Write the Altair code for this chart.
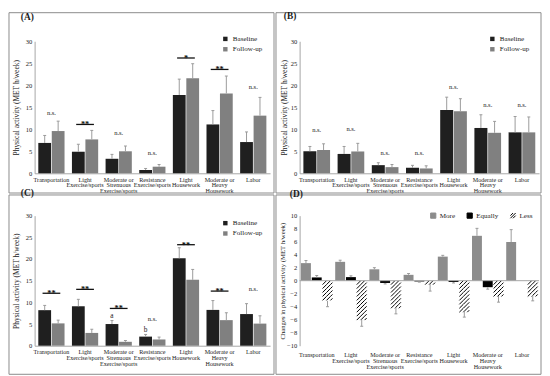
import altair as alt
import pandas as pd

SERIF = "Liberation Serif"
TXT = "#1a1a1a"
AXC = "#a6a6a6"
ERRC = "#9a9a9a"
FRAMEC = "#8a8a8a"

categories = ["Transportation", "Light|Exercise/sports", "Moderate or|Strenuous|Exercise/sports",
              "Resistance|Exercise/sports", "Light|Housework", "Moderate or|Heavy|Housework", "Labor"]
groups = ["Baseline", "Follow-up"]
group_colors = ["#1f1f1f", "#808080"]

# Panel A
a_baseline = [6.9, 4.9, 3.3, 0.75, 17.8, 11.1, 7.1]
a_baseline_se = [1.7, 1.7, 1.0, 0.35, 3.6, 3.15, 2.3]
a_followup = [9.6, 7.7, 5.0, 1.5, 21.6, 18.15, 13.1]
a_followup_se = [2.25, 2.05, 1.2, 0.5, 3.3, 3.95, 4.15]
a_sig = ["n.s.", "**", "n.s.", "n.s.", "*", "**", "n.s."]
a_sig_y = [13.7, 11.1, 9.1, 4.5, 26.2, 23.6, 19.5]

# Panel B
b_baseline = [5.0, 4.4, 1.85, 1.26, 14.4, 10.3, 9.3]
b_baseline_se = [1.1, 1.7, 0.55, 0.55, 2.9, 3.0, 3.6]
b_followup = [5.3, 4.96, 1.4, 1.1, 14.1, 9.2, 9.3]
b_followup_se = [1.4, 1.85, 0.6, 0.6, 2.85, 2.6, 3.5]
b_sig = ["n.s.", "n.s.", "n.s.", "n.s.", "n.s.", "n.s.", "n.s."]
b_sig_y = [9.8, 10.0, 4.7, 4.7, 19.6, 15.6, 15.6]

# Panel C
c_baseline = [8.2, 9.1, 5.0, 2.1, 20.15, 8.26, 7.3]
c_baseline_se = [1.1, 1.6, 0.8, 0.5, 2.45, 2.15, 2.4]
c_followup = [5.15, 2.95, 0.9, 1.44, 15.2, 5.9, 5.1]
c_followup_se = [0.75, 0.85, 0.3, 0.55, 2.4, 1.7, 1.8]
c_sig = ["**", "**", "**", "n.s.", "**", "**", "n.s."]
c_sig_y = [12.1, 13.0, 8.6, 6.1, 23.3, 12.6, 13.0]
c_letters = ["a", "b"]
c_letter_cats = ["Moderate or|Strenuous|Exercise/sports", "Resistance|Exercise/sports"]
c_letter_y = [6.9, 3.6]

# Panel D
d_series = ["More", "Equally", "Less"]
d_fill = ["#8c8c8c", "#000000", "#ffffff"]
d_stroke = ["#8c8c8c", "#000000", "#000000"]
d_more = [2.7, 2.9, 1.75, 0.9, 3.7, 6.9, 5.95]
d_more_se = [0.4, 0.25, 0.25, 0.2, 0.2, 1.15, 1.9]
d_equally = [0.5, 0.55, -0.35, -0.12, -0.2, -1.0, 0.0]
d_equally_se = [0.3, 0.2, 0.15, 0.1, 0.15, 0.3, 0.0]
d_less = [-3.1, -5.95, -4.05, -0.5, -4.6, -2.35, -2.2]
d_less_se = [0.9, 1.05, 1.05, 1.1, 1.0, 0.95, 0.9]

W1, W2 = 239, 243
H1, H2 = 134, 132

XLAB = 6.2
YLAB = 6.6


def x_axis(pad, domain=True):
    return alt.Axis(title=None, labelAngle=0, labelExpr="split(datum.label, '|')", ticks=False,
                    domain=domain, domainColor=AXC, labelFont=SERIF, labelFontSize=XLAB, labelColor=TXT,
                    labelPadding=pad, labelLineHeight=5.9, labelBaseline="top")


def y_axis(values, ttl, tpad, tsize):
    return alt.Axis(values=values, title=ttl, grid=False, ticks=False,
                    domainColor=AXC, labelFont=SERIF, labelFontSize=YLAB, labelColor=TXT, labelPadding=3,
                    titleFont=SERIF, titleFontSize=tsize, titleFontWeight="normal", titleColor=TXT,
                    titlePadding=tpad)


def frame_layer(x1, x2, y1, y2):
    return alt.Chart(pd.DataFrame({"f": [0]})).mark_rect(
        filled=False, stroke=FRAMEC, strokeWidth=1).encode(
        x=alt.value(x1), x2=alt.value(x2), y=alt.value(y1), y2=alt.value(y2))


def title(letter, dx, offset):
    return alt.TitleParams(text=f"({letter})", anchor="start", frame="group", dx=dx, offset=offset,
                           font=SERIF, fontSize=9.5, fontWeight="bold", color=TXT, baseline="alphabetic")


def bar_panel(letter, base, base_se, fol, fol_se, sig, sig_y, width, height, frame, tdx, toff,
              lx, ly, tpad, letters=None):
    df = pd.DataFrame({"cat": categories * 2,
                       "group": [groups[0]] * 7 + [groups[1]] * 7,
                       "value": base + fol, "se": base_se + fol_se})
    xs = alt.Scale(domain=categories, paddingInner=0.22, paddingOuter=0.11)
    xo = alt.XOffset("group:N", scale=alt.Scale(domain=groups, paddingInner=0.05, paddingOuter=0))
    xax = x_axis(3)
    yax = y_axis([0, 5, 10, 15, 20, 25, 30], "Physical activity (MET h/week)", tpad, 7.6)
    X = alt.X("cat:N", scale=xs, axis=xax)
    ys = alt.Scale(domain=[0, 30], nice=False)

    def Y(f):
        return alt.Y(f, scale=ys, axis=yax)

    base_c = alt.Chart(df)
    bars = base_c.mark_bar(opacity=1).encode(
        x=X, xOffset=xo, y=Y("value:Q"),
        color=alt.Color("group:N", scale=alt.Scale(domain=groups, range=group_colors),
                        legend=alt.Legend(title=None, orient="none", legendX=lx, legendY=ly,
                                          symbolType="square", symbolSize=20, symbolStrokeWidth=0,
                                          labelFont=SERIF, labelFontSize=7.2, labelColor=TXT,
                                          rowPadding=2.5, labelOffset=4, padding=0)))
    err = base_c.transform_calculate(top="datum.value + datum.se").mark_rule(
        color=ERRC, strokeWidth=1, opacity=1).encode(
        x=X, xOffset=xo, y=Y("value:Q"), y2="top:Q")
    caps = base_c.transform_calculate(top="datum.value + datum.se").mark_tick(
        color=ERRC, size=3, thickness=1, opacity=1).encode(
        x=X, xOffset=xo, y=Y("top:Q"))
    sdf = pd.DataFrame({"cat": categories, "label": sig, "y": sig_y})
    sc = alt.Chart(sdf)
    ns = sc.transform_filter("datum.label == 'n.s.'").mark_text(
        font=SERIF, fontSize=6.6, baseline="middle", color=TXT).encode(
        x=X, y=Y("y:Q"), text="label:N")
    sline = sc.transform_filter("indexof(datum.label, '*') >= 0").mark_tick(
        size=18, thickness=1.3, color="#111111", opacity=1).encode(
        x=X, y=Y("y:Q"))
    stext = sc.transform_filter("indexof(datum.label, '*') >= 0").mark_text(
        font=SERIF, fontSize=8.5, fontWeight="bold", baseline="alphabetic", dy=3, color="#111111").encode(
        x=X, y=Y("y:Q"), text="label:N")
    layers = [frame_layer(*frame), bars, err, caps, ns, sline, stext]
    if letters is not None:
        ldf = pd.DataFrame({"cat": letters[1], "group": ["Baseline"] * len(letters[0]),
                            "label": letters[0], "y": letters[2]})
        layers.append(alt.Chart(ldf).mark_text(font=SERIF, fontSize=7.4, baseline="middle", color=TXT).encode(
            x=X, xOffset=xo, y=Y("y:Q"), text="label:N"))
    return alt.layer(*layers).properties(width=width, height=height, title=title(letter, tdx, toff))


pA = bar_panel("A", a_baseline, a_baseline_se, a_followup, a_followup_se, a_sig, a_sig_y,
               W1, H1, (-26, W1 + 4, -29, H1 + 20), -14, -17.5, 190, -6, 5)
pB = bar_panel("B", b_baseline, b_baseline_se, b_followup, b_followup_se, b_sig, b_sig_y,
               W2, H1, (-24, W2 + 2, -29, H1 + 20), -16, -16.5, 192, -6, 2)
pC = bar_panel("C", c_baseline, c_baseline_se, c_followup, c_followup_se, c_sig, c_sig_y,
               W1, H2, (-26, W1 + 4, -21, H2 + 29), -14, -11.5, 190, 4, 5,
               letters=(c_letters, c_letter_cats, c_letter_y))

# Panel D
d_df = pd.DataFrame({"cat": categories * 3,
                     "series": [s for s in d_series for _ in range(7)],
                     "value": d_more + d_equally + d_less,
                     "se": d_more_se + d_equally_se + d_less_se})
pi_x, po_x, pi_o = 0.08, 0.04, 0.08
step_x = W2 / (7 - pi_x + 2 * po_x)
bw_x = step_x * (1 - pi_x)
bar_w = bw_x / (3 - pi_o) * (1 - pi_o)
tile_h = 4.0
tile_step = tile_h / (H2 / 20.0)


def hatch_path(w, h):
    r = w / 2.0
    segs = []
    k = 1
    while k * h - h < w:
        c = k * h
        u1 = max(0.0, c - h)
        u2 = min(w, c)
        segs.append("M%.3f,%.3fL%.3f,%.3f" % ((u1 - r) / r, (c - u1 - h / 2) / r,
                                              (u2 - r) / r, (c - u2 - h / 2) / r))
        k += 1
    return "".join(segs)


hpath = hatch_path(bar_w, tile_h)
legend_hatch = "M-1,0L0,-1M-1,1L1,-1M0,1L1,0"
xsD = alt.Scale(domain=categories, paddingInner=pi_x, paddingOuter=po_x)
xoD = alt.XOffset("series:N", scale=alt.Scale(domain=d_series, paddingInner=pi_o, paddingOuter=0))
ysD = alt.Scale(domain=[-10, 10], nice=False)
xaxD = x_axis(6, domain=False)
yaxD = y_axis(list(range(-10, 11, 2)), "Changes in physical activity (MET h/week)", 1, 6.8)
XD = alt.X("cat:N", scale=xsD, axis=xaxD)


def YD(f):
    return alt.Y(f, scale=ysD, axis=yaxD)


d_legend = alt.Legend(title=None, orient="none", legendX=132, legendY=-4, direction="horizontal",
                      symbolSize=28, symbolStrokeWidth=1, labelFont=SERIF, labelFontSize=7.2,
                      labelColor=TXT, columnPadding=9, labelOffset=3, padding=0)
fill_enc = alt.Fill("series:N", scale=alt.Scale(domain=d_series, range=d_fill), legend=d_legend)
dc = alt.Chart(d_df)
d_bars = dc.mark_bar(opacity=1).encode(x=XD, xOffset=xoD, y=YD("value:Q"), fill=fill_enc)
d_tiles = dc.transform_filter("datum.series == 'Less'").transform_calculate(
    k="sequence(0, max(1, round(abs(datum.value) / %f)))" % tile_step).transform_flatten(
    ["k"]).transform_calculate(yc="-(datum.k + 0.5) * %f" % tile_step).mark_point(
    size=bar_w ** 2, strokeWidth=1, opacity=1, color="#000000", shape=hpath).encode(
    x=XD, xOffset=xoD, y=YD("yc:Q"))
d_legend_layer = dc.transform_filter("false").mark_point(opacity=1, strokeWidth=1).encode(
    x=XD, xOffset=xoD, y=YD("value:Q"),
    fill=fill_enc,
    stroke=alt.Stroke("series:N", scale=alt.Scale(domain=d_series, range=d_stroke), legend=d_legend),
    shape=alt.Shape("series:N", scale=alt.Scale(domain=d_series, range=["square", "square", legend_hatch]),
                    legend=d_legend))
d_zero = alt.Chart(pd.DataFrame({"z": [0]})).mark_rule(color=AXC, strokeWidth=1).encode(y=YD("z:Q"))
d_err = dc.transform_filter("datum.se > 0").transform_calculate(
    end="datum.value >= 0 ? datum.value + datum.se : datum.value - datum.se").mark_rule(
    color=ERRC, strokeWidth=1, opacity=1).encode(
    x=XD, xOffset=xoD, y=YD("value:Q"), y2="end:Q")
d_caps = dc.transform_filter("datum.se > 0").transform_calculate(
    end="datum.value >= 0 ? datum.value + datum.se : datum.value - datum.se").mark_tick(
    color=ERRC, size=3, thickness=1, opacity=1).encode(
    x=XD, xOffset=xoD, y=YD("end:Q"))
pD = alt.layer(frame_layer(-24, W2 + 2, -21, H2 + 29), d_bars, d_tiles, d_legend_layer, d_zero,
               d_err, d_caps).properties(width=W2, height=H2, title=title("D", -10, -12.5))

chart = alt.concat(pA, pB, pC, pD, columns=2, spacing={"row": 43, "column": 30}, bounds="flush").resolve_scale(
    color="independent", fill="independent", stroke="independent", shape="independent",
    x="independent", y="independent", xOffset="independent").properties(padding=0).configure_view(
    stroke="transparent")

chart.save("out.html", embed_options={"renderer": "svg", "actions": False})
